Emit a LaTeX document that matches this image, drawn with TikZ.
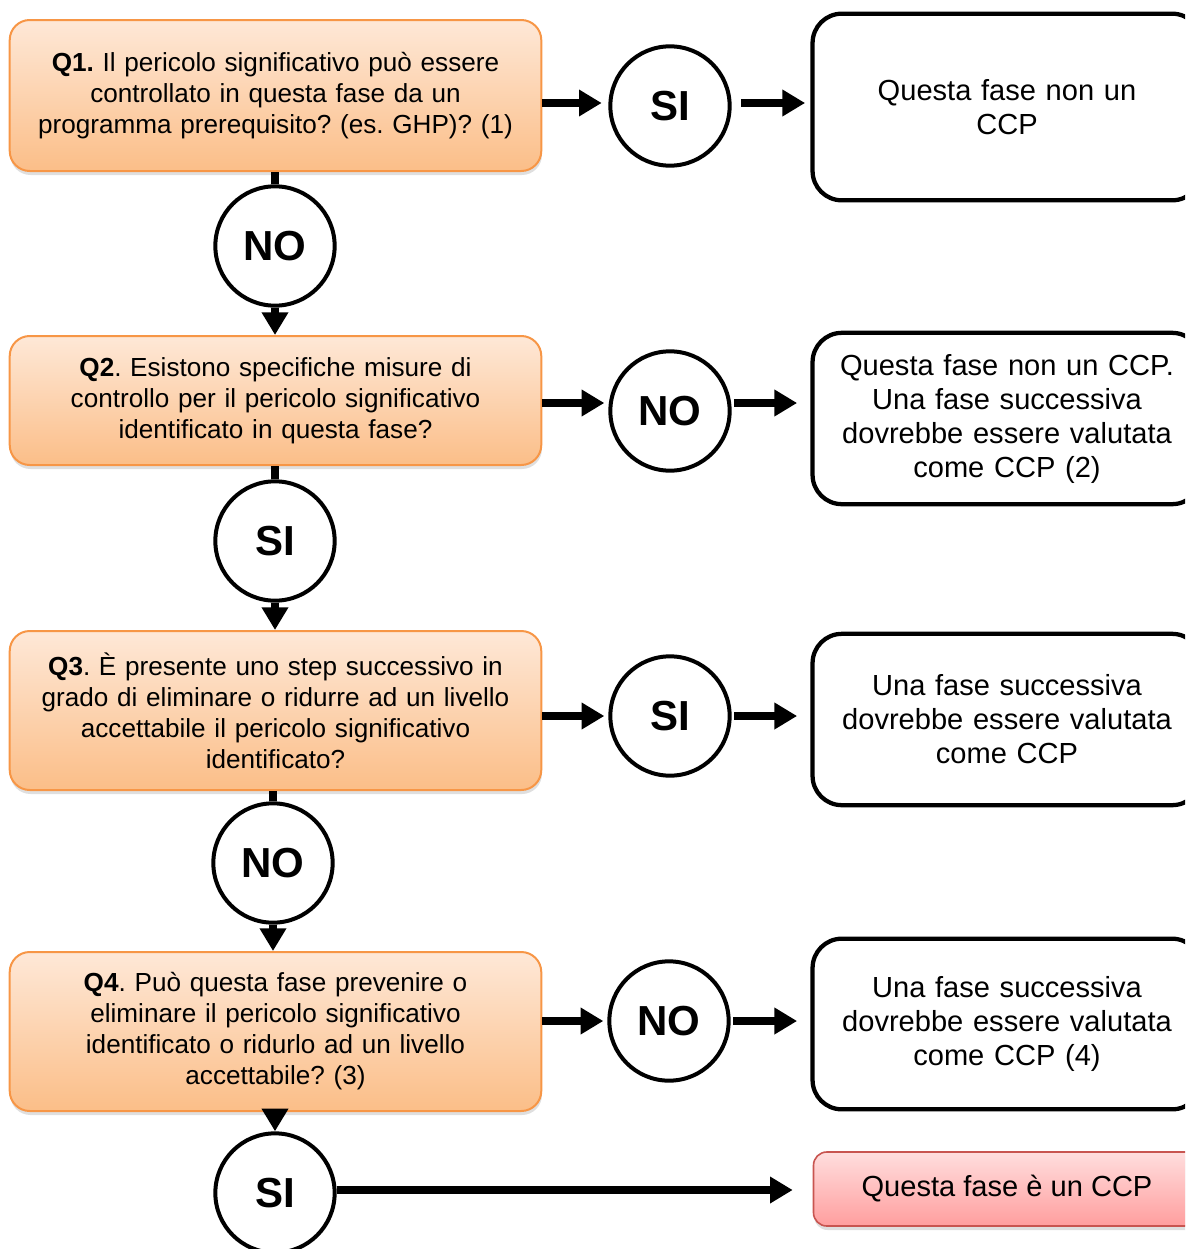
\documentclass[tikz,border=0pt]{standalone}
\usepackage{fontspec}
\setmainfont{Liberation Sans}
\usetikzlibrary{arrows.meta,shadows,calc}
\definecolor{qtop}{RGB}{254,232,215}
\definecolor{qbot}{RGB}{251,190,136}
\definecolor{qborder}{RGB}{247,150,70}
\definecolor{rtop}{RGB}{255,222,222}
\definecolor{rbot}{RGB}{255,158,158}
\definecolor{rborder}{RGB}{200,85,80}
\tikzset{
  qbox/.style={draw=qborder, line width=1.5pt, rounded corners=15pt,
    top color=qtop, bottom color=qbot, minimum width=396.75pt,
    align=center, text width=392pt,
    font=\frenchspacing\fontsize{19.6}{23.25}\selectfont,
    drop shadow={shadow xshift=0.5pt, shadow yshift=-3pt, opacity=0.25}},
  abox/.style={draw=black, line width=3.2pt, rounded corners=22pt, fill=white,
    minimum width=290.25pt, align=center, text width=285pt,
    font=\frenchspacing\fontsize{21.8}{25.5}\selectfont},
  redbox/.style={draw=rborder, line width=1.2pt, rounded corners=10pt,
    top color=rtop, bottom color=rbot, minimum width=290.25pt, minimum height=55.5pt,
    align=center, font=\frenchspacing\fontsize{21.8}{25.5}\selectfont,
    drop shadow={shadow xshift=0.5pt, shadow yshift=-3pt, opacity=0.25}},
  ans/.style={circle, draw=black, line width=3pt, fill=white, minimum size=89.5pt,
    inner sep=0pt, font=\fontsize{31.5}{36}\selectfont\bfseries},
  conn/.style={line width=6pt},
  arr/.style={line width=6pt, -{Triangle[length=17pt,width=19pt]}},
}
\begin{document}
\begin{tikzpicture}[x=0.75pt,y=-0.75pt]
\useasboundingbox (0,0) rectangle (1185,1249);
\clip (0,0) rectangle (1185,1249);
% question boxes
\node[qbox, minimum height=113.25pt] (Q1) at (275.5,95.5)
  {\textbf{Q1.} Il pericolo significativo può essere\\controllato in questa fase da un\\programma prerequisito? (es. GHP)? (1)};
\node[qbox, minimum height=96.75pt] (Q2) at (275.5,400.5)
  {\textbf{Q2}. Esistono specifiche misure di\\controllo per il pericolo significativo\\identificato in questa fase?};
\node[qbox, minimum height=119.25pt] (Q3) at (275.5,710.5)
  {\textbf{Q3}. È presente uno step successivo in\\grado di eliminare o ridurre ad un livello\\accettabile il pericolo significativo\\identificato?};
\node[qbox, minimum height=119.25pt] (Q4) at (275.5,1031.5)
  {\textbf{Q4}. Può questa fase prevenire o\\eliminare il pericolo significativo\\identificato o ridurlo ad un livello\\accettabile? (3)};
% answer boxes
\node[abox, minimum height=140pt] (R1) at (1007,107) {Questa fase non un\\CCP};
\node[abox, minimum height=128.5pt] (R2) at (1007,418.5) {Questa fase non un CCP.\\Una fase successiva\\dovrebbe essere valutata\\come CCP (2)};
\node[abox, minimum height=128.5pt] (R3) at (1007,719.5) {Una fase successiva\\dovrebbe essere valutata\\come CCP};
\node[abox, minimum height=128pt] (R4) at (1007,1024) {Una fase successiva\\dovrebbe essere valutata\\come CCP (4)};
\node[redbox] (R5) at (1007,1189) {Questa fase è un CCP};
% circles
\node[ans] (C1) at (670,106) {SI};
\node[ans] (C2) at (275,246) {NO};
\node[ans] (C3) at (670,411) {NO};
\node[ans] (C4) at (275,541) {SI};
\node[ans] (C5) at (670,716) {SI};
\node[ans] (C6) at (273,863) {NO};
\node[ans] (C7) at (669,1021) {NO};
\node[ans] (C8) at (275,1193) {SI};
% horizontal connectors
\draw[arr, shorten >=5pt] (Q1.east |- 0,103) -- (C1.west |- 0,103);
\draw[arr, shorten <=7pt, shorten >=4pt] (C1.east |- 0,103) -- (R1.west |- 0,103);
\draw[arr, shorten >=3pt] (Q2.east |- 0,403) -- (C3.west |- 0,403);
\draw[arr, shorten <=2pt, shorten >=10pt] (C3.east |- 0,403) -- (R2.west |- 0,403);
\draw[arr, shorten >=3pt] (Q3.east |- 0,716) -- (C5.west |- 0,716);
\draw[arr, shorten <=2pt, shorten >=10pt] (C5.east |- 0,716) -- (R3.west |- 0,716);
\draw[arr, shorten >=3pt] (Q4.east |- 0,1021) -- (C7.west |- 0,1021);
\draw[arr, shorten <=2pt, shorten >=10pt] (C7.east |- 0,1021) -- (R4.west |- 0,1021);
\draw[arr, shorten >=15pt] (C8.east |- 0,1190) -- (R5.west |- 0,1190);
% vertical connectors
\draw[conn] (Q1.south -| C2) -- (C2.north);
\draw[arr] (C2.south) -- (Q2.north -| C2);
\draw[conn] (Q2.south -| C4) -- (C4.north);
\draw[arr] (C4.south) -- (Q3.north -| C4);
\draw[conn] (Q3.south -| C6) -- (C6.north);
\draw[arr] (C6.south) -- (Q4.north -| C6);
\draw[arr] (Q4.south -| C8) -- (C8.north);
\end{tikzpicture}
\end{document}
